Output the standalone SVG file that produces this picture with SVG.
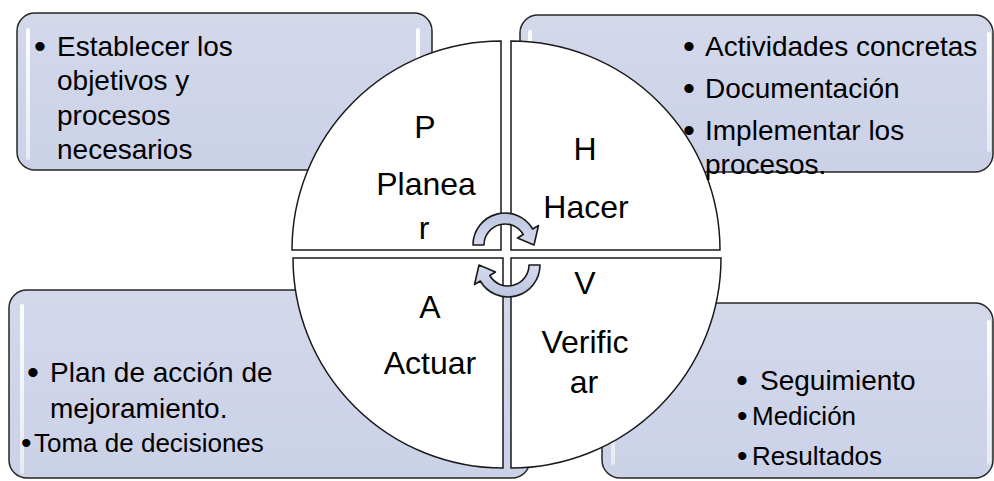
<svg xmlns="http://www.w3.org/2000/svg" width="994" height="481" viewBox="0 0 994 481">
<defs>
<linearGradient id="boxFill" x1="0" y1="0" x2="0" y2="1">
<stop offset="0" stop-color="#D3D8EB"/>
<stop offset="1" stop-color="#CBD1E7"/>
</linearGradient>
<linearGradient id="shine" x1="0" y1="0" x2="0" y2="1">
<stop offset="0" stop-color="#FFFFFF" stop-opacity="0.95"/>
<stop offset="1" stop-color="#FFFFFF" stop-opacity="0.55"/>
</linearGradient>
<linearGradient id="arrowFill" x1="0" y1="0" x2="0" y2="1">
<stop offset="0" stop-color="#BCC4E0"/>
<stop offset="1" stop-color="#D6DBEE"/>
</linearGradient>
</defs>
<style>
.box{fill:url(#boxFill);stroke:#262626;stroke-width:1.5}
.shine{fill:url(#shine)}
.quad{fill:#FFFFFF;stroke:#1a1a1a;stroke-width:1.5}
.arrow{fill:url(#arrowFill);stroke:#1a1a1a;stroke-width:1.6;stroke-linejoin:round}
.t{font-family:"Liberation Sans",Arial,sans-serif;fill:#000000}
.b28{font-size:28px}
.b26{font-size:26px}
.bul{font-size:34px}
.bul2{font-size:30px}
.c32{font-size:32px;text-anchor:middle}
</style>

<!-- box shapes -->
<g id="box-planear-shape">
<rect class="box" x="17" y="13" width="415" height="157" rx="18"/>
<rect class="shine" x="26" y="28" width="4" height="132" rx="2"/>
<rect class="shine" x="416" y="28" width="4" height="118" rx="2"/>
</g>
<g id="box-hacer-shape">
<rect class="box" x="520" y="15" width="473" height="157" rx="18"/>
<rect class="shine" x="528" y="30" width="4" height="60" rx="2"/>
<rect class="shine" x="987" y="32" width="4" height="120" rx="2"/>
</g>
<g id="box-actuar-shape">
<rect class="box" x="9" y="290" width="521" height="188" rx="18"/>
<rect class="shine" x="20" y="304" width="4" height="170" rx="2"/>
</g>
<g id="box-verificar-shape">
<rect class="box" x="602" y="303" width="391" height="175" rx="18"/>
<rect class="shine" x="611" y="320" width="4" height="145" rx="2"/>
<rect class="shine" x="987" y="320" width="4" height="145" rx="2"/>
</g>

<!-- circle quadrants -->
<g id="node-p">
<path class="quad" d="M501,41 L501,250 L292,250 A209,209 0 0 1 501,41 Z"/>
<text class="t c32" x="425" y="138">P</text>
<text class="t c32" x="426" y="195">Planea</text>
<text class="t c32" x="424" y="239">r</text>
</g>
<g id="node-h">
<path class="quad" d="M511,41 L511,250 L720,250 A209,209 0 0 0 511,41 Z"/>
<text class="t c32" x="585" y="160">H</text>
<text class="t c32" x="586" y="218">Hacer</text>
</g>
<g id="node-a">
<path class="quad" d="M503,468 L503,258 L293,258 A210,210 0 0 0 503,468 Z"/>
<text class="t c32" x="430" y="318">A</text>
<text class="t c32" x="430" y="374">Actuar</text>
</g>
<g id="node-v">
<path class="quad" d="M511,468 L511,258 L721,258 A210,210 0 0 1 511,468 Z"/>
<text class="t c32" x="585" y="294">V</text>
<text class="t c32" x="585" y="353">Verific</text>
<text class="t c32" x="584" y="393">ar</text>
</g>

<!-- cycle arrows -->
<g id="connectors">
<path id="arrow-top" class="arrow" d="M473,245 A32,32 0 0 1 532.7,229 L538.5,225.5 L534,245 L517.5,238 L523.2,234.5 A21,21 0 0 0 484,245 Z"/>
<path id="arrow-bottom" class="arrow" transform="rotate(180 506.5 255)" d="M473,245 A32,32 0 0 1 532.7,229 L538.5,225.5 L534,245 L517.5,238 L523.2,234.5 A21,21 0 0 0 484,245 Z"/>
</g>

<!-- box texts -->
<g id="box-planear">
<text class="t bul" x="34" y="58">•</text>
<text class="t b28" x="57" y="56">Establecer los</text>
<text class="t b28" x="57" y="90">objetivos y</text>
<text class="t b28" x="57" y="124.5">procesos</text>
<text class="t b28" x="57" y="159">necesarios</text>
</g>
<g id="box-hacer">
<text class="t bul" x="683" y="58">•</text>
<text class="t b28" x="705" y="56">Actividades concretas</text>
<text class="t bul" x="683" y="100">•</text>
<text class="t b28" x="705" y="98">Documentación</text>
<text class="t bul" x="683" y="142">•</text>
<text class="t b28" x="705" y="140">Implementar los</text>
<text class="t b28" x="705" y="174">procesos.</text>
</g>
<g id="box-actuar">
<text class="t bul" x="27" y="384">•</text>
<text class="t b28" x="50" y="382">Plan de acción de</text>
<text class="t b28" x="50" y="418">mejoramiento.</text>
<text class="t bul2" x="21" y="453">•</text>
<text class="t b26" x="34" y="452">Toma de decisiones</text>
</g>
<g id="box-verificar">
<text class="t bul" x="736" y="392">•</text>
<text class="t b28" x="760" y="390">Seguimiento</text>
<text class="t bul2" x="737" y="426">•</text>
<text class="t b26" x="752" y="425">Medición</text>
<text class="t bul2" x="737" y="466">•</text>
<text class="t b26" x="752" y="465">Resultados</text>
</g>
</svg>
